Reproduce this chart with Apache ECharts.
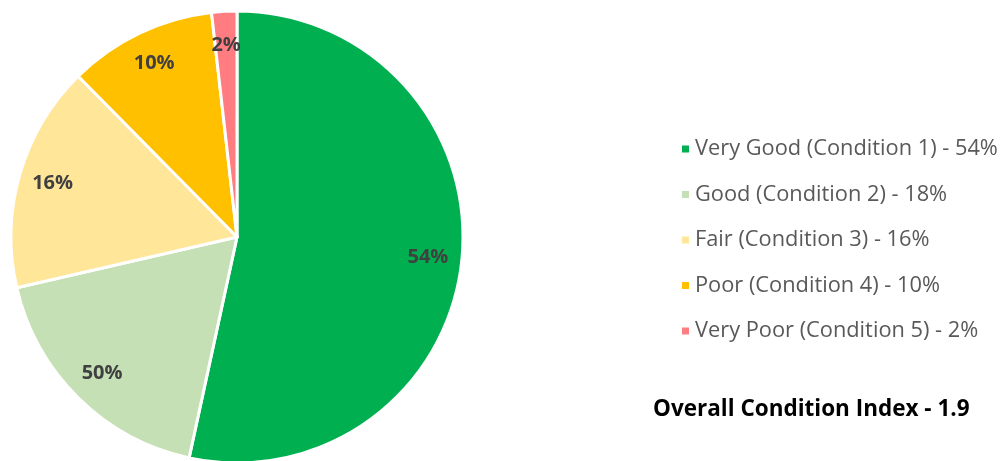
<!DOCTYPE html>
<html>
<head>
<meta charset="utf-8">
<script src="https://cdn.jsdelivr.net/npm/echarts@6/dist/echarts.min.js"></script>
<style>html,body{margin:0;padding:0;background:#fff;}#c{width:1006px;height:461px;}</style>
</head>
<body>
<div id="c"></div>
<script>
var categories = ['Very Good (Condition 1)', 'Good (Condition 2)', 'Fair (Condition 3)', 'Poor (Condition 4)', 'Very Poor (Condition 5)'];
var values = [53.4, 18.0, 16.2, 10.6, 1.8];
var legendPercents = [54, 18, 16, 10, 2];
var sliceLabels = ['54%', '50%', '16%', '10%', '2%'];
var colors = ['#00B050', '#C5E0B4', '#FFE699', '#FFC000', '#FF7C80'];
var titleText = 'Overall Condition Index - 1.9';

var font = 'Open Sans';
var chart = echarts.init(document.getElementById('c'), null, {renderer: 'canvas'});
var data = categories.map(function (c, i) {
  return {name: c, value: values[i], itemStyle: {color: colors[i]}};
});
var labelData = categories.map(function (c, i) {
  return {name: c, value: values[i], label: {formatter: sliceLabels[i]}};
});
chart.setOption({
  animation: false,
  title: {
    text: titleText,
    left: 648, top: 393,
    textStyle: {fontFamily: font, fontSize: 22.5, fontWeight: 'bold', color: '#000'}
  },
  legend: {
    orient: 'vertical',
    left: 675, top: 133,
    itemWidth: 9, itemHeight: 9, itemGap: 23.5, itemTextGap: 7,
    icon: 'rect',
    data: categories,
    formatter: function (name) {
      var i = categories.indexOf(name);
      return name + ' - ' + legendPercents[i] + '%';
    },
    textStyle: {fontFamily: font, fontSize: 21.8, color: '#595959', lineHeight: 21}
  },
  series: [{
    type: 'pie',
    center: [237, 237],
    radius: [0, 226],
    startAngle: 90,
    clockwise: true,
    data: data,
    label: {show: false},
    labelLine: {show: false},
    itemStyle: {borderColor: '#fff', borderWidth: 3},
    emphasis: {disabled: true}
  }, {
    type: 'pie',
    center: [237, 237],
    radius: [152, 226],
    startAngle: 90,
    clockwise: true,
    silent: true,
    data: labelData,
    itemStyle: {color: 'rgba(0,0,0,0)', borderWidth: 0},
    label: {show: true, position: 'inside', fontFamily: font, fontSize: 20, fontWeight: 'bold', color: '#404040'},
    labelLine: {show: false},
    emphasis: {disabled: true},
    legendHoverLink: false
  }]
});
</script>
</body>
</html>
